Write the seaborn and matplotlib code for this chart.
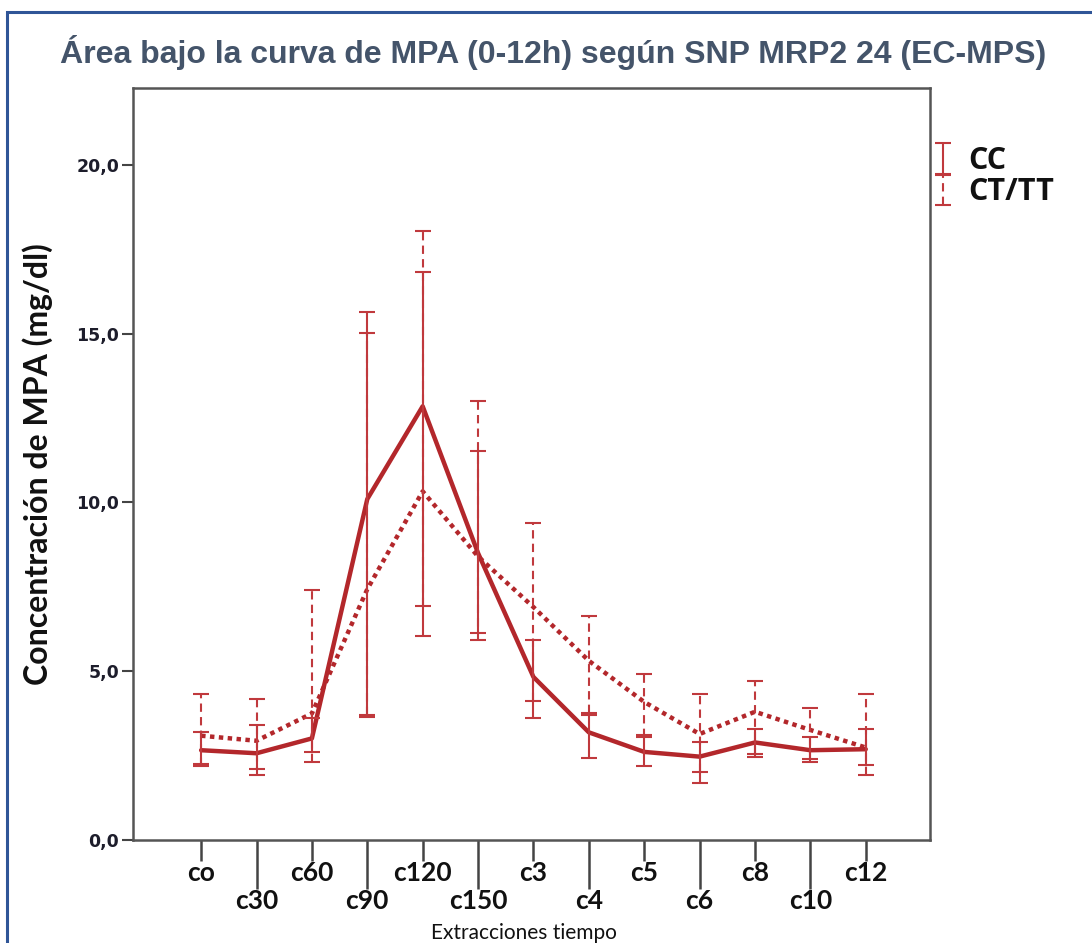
import numpy as np
import pandas as pd
import matplotlib
matplotlib.use("Agg")
import matplotlib.pyplot as plt
import seaborn as sns
from matplotlib.patches import Rectangle

# Sampling times (extraction labels) and MPA concentration by genotype group
times = ["co", "c30", "c60", "c90", "c120", "c150", "c3", "c4", "c5", "c6", "c8", "c10", "c12"]
groups = ["CC", "CT/TT"]

cc_mean = [2.66, 2.57, 3.01, 10.10, 12.85, 8.50, 4.83, 3.19, 2.61, 2.47, 2.89, 2.66, 2.69]
cc_low = [2.25, 2.10, 2.61, 3.65, 6.04, 6.14, 3.61, 2.42, 2.20, 1.70, 2.45, 2.30, 2.22]
cc_high = [3.20, 3.40, 3.60, 15.63, 16.84, 11.52, 5.92, 3.70, 3.10, 2.89, 3.30, 3.05, 3.30]

ct_mean = [3.09, 2.94, 3.75, 7.43, 10.33, 8.40, 6.90, 5.31, 4.09, 3.14, 3.80, 3.26, 2.74]
ct_low = [2.20, 1.92, 2.31, 3.70, 6.93, 5.93, 4.12, 3.75, 3.05, 2.00, 2.54, 2.40, 1.92]
ct_high = [4.32, 4.19, 7.40, 15.02, 18.03, 13.00, 9.40, 6.63, 4.93, 4.32, 4.71, 3.90, 4.32]

y_ticks = [0, 5, 10, 15, 20]
y_tick_labels = ["0,0", "5,0", "10,0", "15,0", "20,0"]

RED = "#B3272B"
RED_BAR = "#C0393D"

sns.set_theme(style="white")
plt.rcParams["font.family"] = ["Lato", "DejaVu Sans"]

pos = np.arange(len(times))
df = pd.DataFrame({
    "pos": np.concatenate([pos, pos]),
    "value": np.concatenate([cc_mean, ct_mean]),
    "group": [groups[0]] * len(times) + [groups[1]] * len(times),
})

fig = plt.figure(figsize=(10.92, 9.43), dpi=100)
ax = fig.add_axes([133 / 1092, 1 - 840 / 943, (930 - 133) / 1092, (840 - 88) / 943])

sns.lineplot(
    data=df, x="pos", y="value", hue="group", style="group",
    palette={groups[0]: RED, groups[1]: RED},
    dashes={groups[0]: "", groups[1]: (1, 1)},
    linewidth=3.2, legend=False, ax=ax,
)

# Error bars (95% CI) for each group
series = [
    (groups[0], cc_mean, cc_low, cc_high, "-"),
    (groups[1], ct_mean, ct_low, ct_high, (0, (4, 2.5))),
]
handles = []
for name, mean, lo, hi, ls in series:
    mean = np.asarray(mean)
    yerr = [mean - np.asarray(lo), np.asarray(hi) - mean]
    eb = ax.errorbar(pos, mean, yerr=yerr, fmt="none", ecolor=RED_BAR,
                     elinewidth=1.5, capsize=5.5, capthick=1.5, label=name)
    eb[2][0].set_linestyle(ls)
    handles.append(eb)

ax.set_xlim(-1.23, 13.16)
ax.set_ylim(0, 22.28)

# Y axis
ax.set_yticks(y_ticks, y_tick_labels)
ax.tick_params(axis="y", which="major", length=8, width=1.5, color="#444444",
               left=True, pad=2, labelsize=12.5)
for lab in ax.get_yticklabels():
    lab.set_fontfamily("DejaVu Sans")
    lab.set_fontweight("bold")
    lab.set_color("#1d1d2b")

# X axis: staggered labels with short and long ticks
even = pos[::2]
odd = pos[1::2]
ax.set_xticks(even, [times[i] for i in even])
ax.set_xticks(odd, [times[i] for i in odd], minor=True)
ax.tick_params(axis="x", which="major", length=15, width=1.8, color="#444444",
               bottom=True, pad=0, labelsize=19)
ax.tick_params(axis="x", which="minor", length=35, width=1.8, color="#444444",
               bottom=True, pad=0, labelsize=19)
for lab in ax.get_xticklabels() + ax.get_xticklabels(minor=True):
    lab.set_fontweight("bold")
    lab.set_color("#111111")

for sp in ax.spines.values():
    sp.set_color("#555555")
    sp.set_linewidth(1.8)
    sp.set_visible(True)

ax.set_xlabel("Extracciones tiempo", fontsize=15, color="#111111", labelpad=2)
ax.xaxis.set_label_coords(0.49, -0.110)
ax.set_ylabel("Concentración de MPA (mg/dl)", fontsize=23, fontweight="bold",
              color="#111111")
ax.yaxis.set_label_coords(-0.100, 0.5)

fig.text(553 / 1092, 1 - 52 / 943,
         "Área bajo la curva de MPA (0-12h) según SNP MRP2 24 (EC-MPS)",
         ha="center", va="center", fontsize=23, fontweight="bold",
         color="#44546A", family="Liberation Sans")

leg = fig.legend(handles=handles, labels=groups, loc="upper left",
                 bbox_to_anchor=(906 / 1092, 1 - 118 / 943), frameon=False,
                 handlelength=0.6, handleheight=0.6, handletextpad=0.55,
                 labelspacing=0.05,
                 prop={"family": "Open Sans", "weight": "bold", "size": 22})
for t in leg.get_texts():
    t.set_color("#111111")

# Outer frame
fig.add_artist(Rectangle((7 / 1092, -0.05), 1.2, 0.05 + (943 - 12) / 943,
                         transform=fig.transFigure, fill=False,
                         edgecolor="#2F5597", linewidth=2.2, clip_on=False))

fig.savefig("out.png", dpi=100, facecolor="white")
